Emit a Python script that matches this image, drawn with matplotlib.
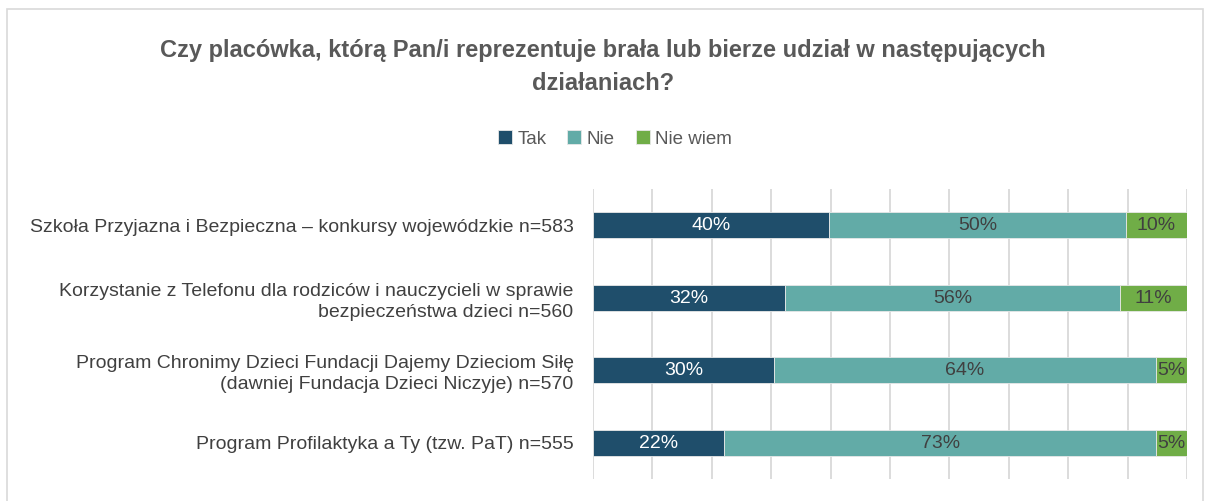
import matplotlib
matplotlib.use("Agg")
import matplotlib.pyplot as plt
from matplotlib import font_manager
from matplotlib.patches import Rectangle
import numpy as np

categories = [
    "Szkoła Przyjazna i Bezpieczna – konkursy wojewódzkie n=583",
    "Korzystanie z Telefonu dla rodziców i nauczycieli w sprawie\nbezpieczeństwa dzieci n=560",
    "Program Chronimy Dzieci Fundacji Dajemy Dzieciom Siłę\n(dawniej Fundacja Dzieci Niczyje) n=570",
    "Program Profilaktyka a Ty (tzw. PaT) n=555",
]
series_names = ["Tak", "Nie", "Nie wiem"]
tak = [39.7, 32.3, 30.4, 22.1]
nie = [50.0, 56.4, 64.4, 72.7]
nie_wiem = [10.3, 11.3, 5.2, 5.2]
shown = [[40, 32, 30, 22], [50, 56, 64, 73], [10, 11, 5, 5]]

colors = ["#1f4e6b", "#62aba7", "#70ad47"]
label_colors = ["white", "#404040", "#404040"]

names = {f.name for f in font_manager.fontManager.ttflist}
narrow = "Liberation Sans Narrow" if "Liberation Sans Narrow" in names else "Liberation Sans"
plt.rcParams["font.family"] = [narrow, "DejaVu Sans"]

fig = plt.figure(figsize=(12.06, 5.01), dpi=100)
fig.patches.append(Rectangle((7 / 1206, -0.1), 1196 / 1206, 1 - 9 / 501 + 0.1,
                             transform=fig.transFigure, facecolor="none",
                             edgecolor="#d9d9d9", linewidth=1.2))

ax = fig.add_axes([593 / 1206, 22 / 501, 594 / 1206, 290 / 501])
y = np.arange(len(categories))
left = np.zeros(len(categories))
for vals, name, c, lc, sh in zip([tak, nie, nie_wiem], series_names, colors, label_colors, shown):
    bars = ax.barh(y, vals, left=left, height=0.36, color=c, edgecolor="#e8e8e8",
                   linewidth=0.6, label=name, zorder=3)
    for b, s in zip(bars, sh):
        ax.text(b.get_x() + b.get_width() / 2, b.get_y() + b.get_height() / 2 + 0.01,
                f"{s}%", ha="center", va="center", color=lc, fontsize=14, zorder=4)
    left += np.array(vals)

ax.set_xlim(0, 100)
ax.set_ylim(3.5, -0.5)
ax.set_xticks(np.arange(0, 101, 10))
ax.xaxis.grid(True, color="#d9d9d9", linewidth=1.3, zorder=0)
ax.tick_params(axis="x", length=0, labelbottom=False)
ax.tick_params(axis="y", length=0, pad=14)
ax.set_yticks(y)
ax.set_yticklabels(categories, fontsize=14, color="#404040", ha="right",
                   multialignment="right", linespacing=1.3)
for s in ax.spines.values():
    s.set_visible(False)

fig.text(0.5, 1 - 67 / 501,
         "Czy placówka, którą Pan/i reprezentuje brała lub bierze udział w następujących\ndziałaniach?",
         ha="center", va="center", fontsize=17, fontweight="bold", color="#595959",
         family="Liberation Sans", linespacing=1.5)

fig.legend(loc="center", bbox_to_anchor=(615 / 1206, 1 - 139 / 501), ncol=3, frameon=False,
           fontsize=13.5, handlelength=0.75, handleheight=0.75, handletextpad=0.3,
           columnspacing=1.1, labelcolor="#595959")

fig.savefig("out.png", dpi=100)
